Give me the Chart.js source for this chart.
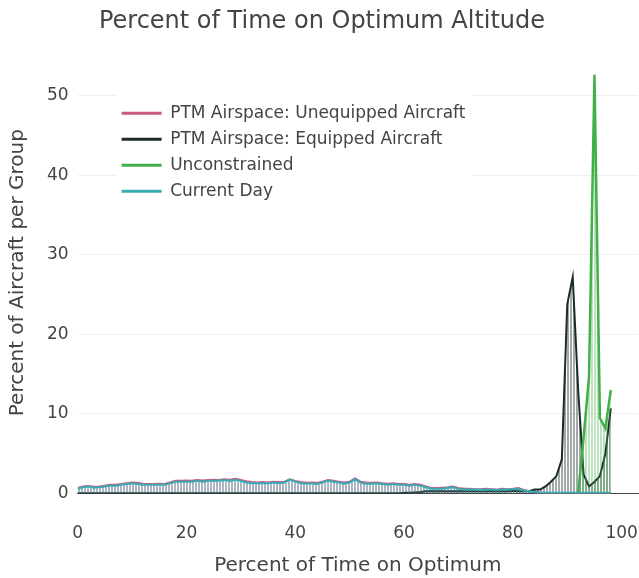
<!DOCTYPE html>
<html>
<head>
<meta charset="utf-8">
<script src="https://cdn.jsdelivr.net/npm/chart.js@4.4.0/dist/chart.umd.min.js"></script>
<style>
  html, body { margin: 0; padding: 0; background: #fff; }
</style>
</head>
<body>
<canvas id="myChart" width="639" height="578"></canvas>
<script>
// x: percent of time on optimum altitude
var timeOnOptimum = [
   0,  1,  2,  3,  4,  5,  6,  7,  8,  9,
  10, 11, 12, 13, 14, 15, 16, 17, 18, 19,
  20, 21, 22, 23, 24, 25, 26, 27, 28, 29,
  30, 31, 32, 33, 34, 35, 36, 37, 38, 39,
  40, 41, 42, 43, 44, 45, 46, 47, 48, 49,
  50, 51, 52, 53, 54, 55, 56, 57, 58, 59,
  60, 61, 62, 63, 64, 65, 66, 67, 68, 69,
  70, 71, 72, 73, 74, 75, 76, 77, 78, 79,
  80, 81, 82, 83, 84, 85, 86, 87, 88, 89,
  90, 91, 92, 93, 94, 95, 96, 97, 98
];

var xTicks = [0, 20, 40, 60, 80, 100];
var yTicks = [0, 10, 20, 30, 40, 50];

var unequipped = [
  0.7, 0.9, 0.95, 0.85, 0.9, 1.0, 1.1, 1.1, 1.2, 1.3,
  1.4, 1.35, 1.25, 1.2, 1.2, 1.25, 1.2, 1.4, 1.6, 1.6,
  1.65, 1.6, 1.7, 1.65, 1.7, 1.75, 1.7, 1.8, 1.75, 1.85,
  1.7, 1.55, 1.45, 1.4, 1.45, 1.4, 1.5, 1.45, 1.5, 1.8,
  1.6, 1.45, 1.35, 1.4, 1.35, 1.5, 1.7, 1.6, 1.5, 1.4,
  1.5, 1.9, 1.5, 1.4, 1.35, 1.4, 1.3, 1.25, 1.3, 1.2,
  1.2, 1.1, 1.2, 1.1, 0.9, 0.7, 0.7, 0.75, 0.8, 0.9,
  0.7, 0.6, 0.6, 0.55, 0.55, 0.6, 0.55, 0.5, 0.6, 0.55,
  0.6, 0.7, 0.45, 0.3, 0.2, 0.1, 0.05, 0.05, 0.05, 0.05,
  0.05, 0.05, 0.05, 0.05, 0.05, 0.05, 0.05, 0.05, 0.05
];

var equipped = [
  0.05, 0.05, 0.05, 0.05, 0.05, 0.05, 0.05, 0.05, 0.05, 0.05,
  0.05, 0.05, 0.05, 0.05, 0.05, 0.05, 0.05, 0.05, 0.05, 0.05,
  0.05, 0.05, 0.05, 0.05, 0.05, 0.05, 0.05, 0.05, 0.05, 0.05,
  0.05, 0.05, 0.05, 0.05, 0.05, 0.05, 0.05, 0.05, 0.05, 0.05,
  0.05, 0.05, 0.05, 0.05, 0.05, 0.05, 0.05, 0.05, 0.05, 0.05,
  0.05, 0.05, 0.05, 0.05, 0.05, 0.05, 0.05, 0.05, 0.05, 0.05,
  0.1, 0.1, 0.15, 0.2, 0.3, 0.3, 0.3, 0.3, 0.3, 0.3,
  0.3, 0.3, 0.3, 0.3, 0.3, 0.3, 0.3, 0.3, 0.3, 0.3,
  0.35, 0.3, 0.3, 0.3, 0.5, 0.5, 0.9, 1.5, 2.2, 4.3,
  23.8, 27.2, 13, 2.4, 0.9, 1.5, 2.2, 5, 10.7
];

var unconstrained = [
  null, null, null, null, null, null, null, null, null, null,
  null, null, null, null, null, null, null, null, null, null,
  null, null, null, null, null, null, null, null, null, null,
  null, null, null, null, null, null, null, null, null, null,
  null, null, null, null, null, null, null, null, null, null,
  null, null, null, null, null, null, null, null, null, null,
  null, null, null, null, null, null, null, null, null, null,
  null, null, null, null, null, null, null, null, null, null,
  null, null, null, null, null, null, null, null, null, null,
  null, null, 0, 7, 14.7, 52.6, 9.5, 8.2, 13
];

var currentDay = [
  0.6, 0.8, 0.9, 0.75, 0.8, 0.9, 1.0, 1.0, 1.1, 1.2,
  1.3, 1.2, 1.1, 1.1, 1.1, 1.1, 1.1, 1.3, 1.5, 1.5,
  1.5, 1.5, 1.6, 1.5, 1.6, 1.6, 1.6, 1.7, 1.6, 1.75,
  1.6, 1.4, 1.3, 1.3, 1.3, 1.3, 1.4, 1.3, 1.4, 1.75,
  1.5, 1.3, 1.25, 1.3, 1.2, 1.4, 1.6, 1.5, 1.4, 1.25,
  1.4, 1.8, 1.4, 1.25, 1.25, 1.3, 1.2, 1.1, 1.2, 1.1,
  1.1, 1.0, 1.1, 1.0, 0.8, 0.6, 0.6, 0.6, 0.7, 0.8,
  0.6, 0.5, 0.5, 0.5, 0.45, 0.5, 0.5, 0.45, 0.5, 0.5,
  0.55, 0.6, 0.4, 0.3, 0.2, 0.1, 0.1, 0.1, 0.1, 0.1,
  0.1, 0.1, 0.1, 0.1, 0.1, 0.1, 0.1, 0.1, 0.1
];

var seriesNames = ['PTM Airspace: Unequipped Aircraft', 'PTM Airspace: Equipped Aircraft', 'Unconstrained', 'Current Day'];

Chart.defaults.font.family = "'DejaVu Sans', Verdana, sans-serif";
Chart.defaults.color = '#444';

var canvas = document.getElementById('myChart');
var ctx = canvas.getContext('2d');

// striped fill, 2px colour + 1px gap
function stripes(rgba) {
  var c = document.createElement('canvas');
  c.width = 3; c.height = 1;
  var cc = c.getContext('2d');
  cc.fillStyle = rgba;
  cc.fillRect(0, 0, 2, 1);
  return ctx.createPattern(c, 'repeat');
}

function points(vals) {
  return vals.map(function(v, i) { return {x: timeOnOptimum[i], y: v}; });
}

function series(label, vals, line, fillCol, order, width) {
  return {
    label: label,
    data: points(vals),
    borderColor: line,
    backgroundColor: stripes(fillCol),
    fill: 'origin',
    borderWidth: width,
    pointRadius: 0,
    tension: 0,
    spanGaps: false,
    order: order
  };
}

function fixedTicks(values) {
  return function(scale) {
    scale.ticks = values.map(function(v) { return {value: v}; });
  };
}

// legend sits inside the plot on a white box
var legendBox = {
  id: 'legendBox',
  afterLayout: function(chart) {
    var lg = chart.legend;
    lg.left = chart.chartArea.left + 35;
    lg.top = chart.chartArea.top + 44;
  },
  afterDatasetsDraw: function(chart) {
    var lg = chart.legend;
    var c = chart.ctx;
    c.save();
    c.fillStyle = '#fff';
    c.fillRect(lg.left + 4, lg.top - 6, 355, 116);
    c.restore();
    lg.draw();
  }
};

var myChart = new Chart(ctx, {
  type: 'line',
  data: {
    datasets: [
      series(seriesNames[0], unequipped, '#c95b80', 'rgba(201,91,128,0.4)', 3, 2),
      series(seriesNames[1], equipped, '#1c2b28', 'rgba(28,43,40,0.4)', 2, 2),
      series(seriesNames[2], unconstrained, '#41b049', 'rgba(65,176,73,0.35)', 1, 2.5),
      series(seriesNames[3], currentDay, '#3aabb3', 'rgba(58,171,179,0.35)', 0, 2)
    ]
  },
  options: {
    responsive: false,
    animation: false,
    events: [],
    layout: { padding: { left: 6, right: 1, top: 0, bottom: 0 } },
    plugins: {
      title: {
        display: true,
        text: 'Percent of Time on Optimum Altitude',
        font: { size: 24, weight: 'normal' },
        color: '#444',
        padding: { top: 7, bottom: 16 }
      },
      legend: {
        position: 'chartArea',
        align: 'start',
        labels: {
          boxWidth: 40,
          boxHeight: 3,
          padding: 9,
          color: '#444',
          font: { size: 17 },
          generateLabels: function(chart) {
            var items = Chart.defaults.plugins.legend.labels.generateLabels(chart);
            items.forEach(function(it) { it.fillStyle = it.strokeStyle; it.lineWidth = 0; });
            items.sort(function(a, b) { return a.datasetIndex - b.datasetIndex; });
            return items;
          }
        }
      },
      tooltip: { enabled: false }
    },
    scales: {
      x: {
        type: 'linear',
        min: 0,
        max: 103,
        afterBuildTicks: fixedTicks(xTicks),
        afterFit: function(scale) { scale.paddingRight = 0; scale.paddingLeft = 0; },
        ticks: { padding: 30, font: { size: 17 }, color: '#444', maxRotation: 0 },
        grid: { display: false, drawTicks: false },
        border: { display: true, color: '#444', width: 1 },
        title: { display: true, text: 'Percent of Time on Optimum', font: { size: 20 }, color: '#444', padding: { top: -20, bottom: 0 } }
      },
      y: {
        min: 0,
        max: 55.5,
        afterBuildTicks: fixedTicks(yTicks),
        ticks: { padding: 9, font: { size: 17 }, color: '#444' },
        grid: { color: '#eee', drawTicks: false },
        border: { display: false },
        title: { display: true, text: 'Percent of Aircraft per Group', font: { size: 20 }, color: '#444', padding: { top: 0, bottom: 8 } }
      }
    }
  },
  plugins: [legendBox]
});
</script>
</body>
</html>
